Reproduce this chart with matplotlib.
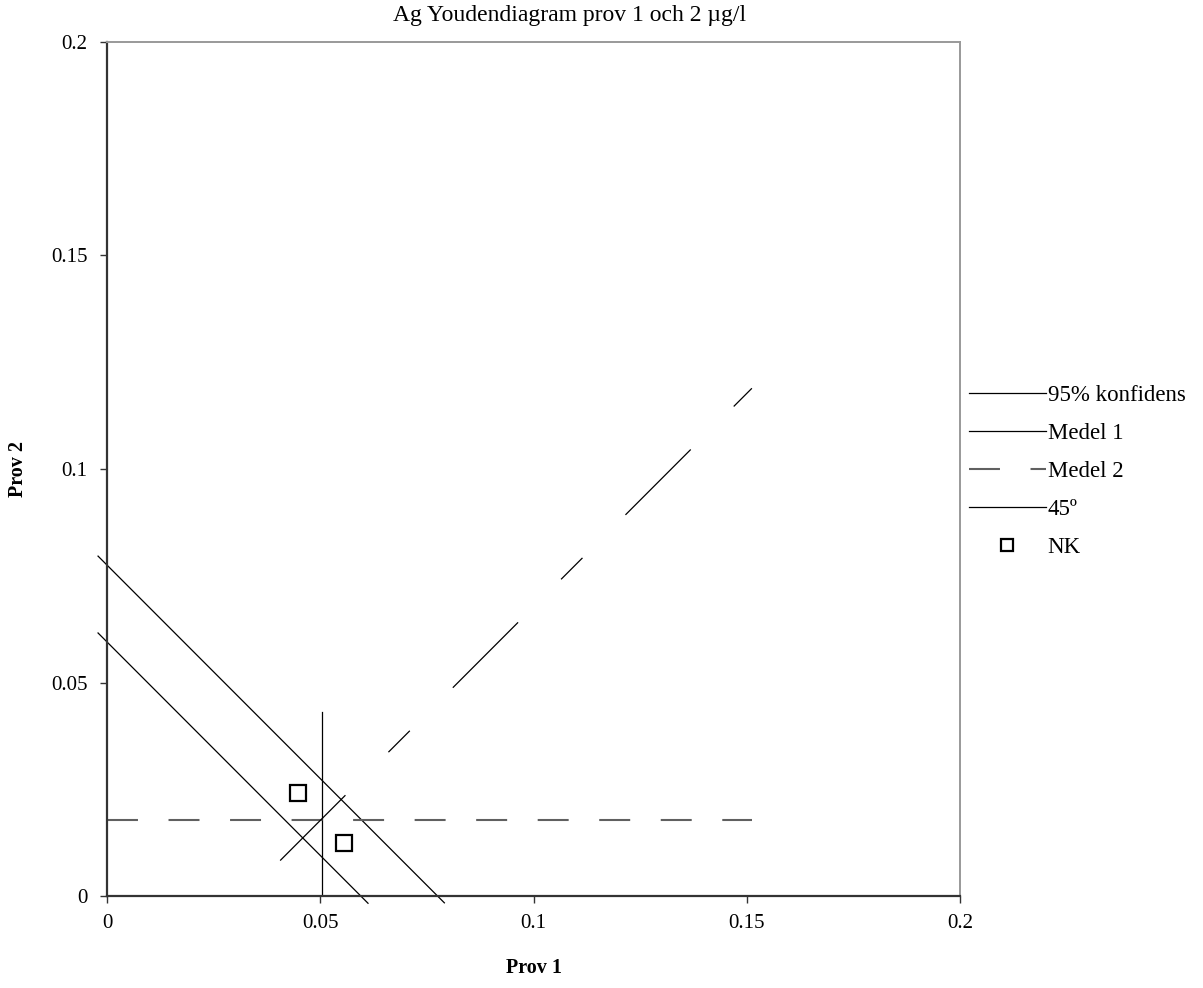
import matplotlib
matplotlib.use("Agg")
import matplotlib.pyplot as plt
from matplotlib.lines import Line2D

plt.rcParams["font.family"] = ["Liberation Serif", "DejaVu Serif"]
plt.rcParams["lines.scale_dashes"] = False

# Youden data for Ag, prov 1 vs prov 2 (µg/l)
nk_prov1 = [0.0448, 0.0556]
nk_prov2 = [0.0241, 0.0124]

medel1 = 0.0503
medel2 = 0.0178
medel1_ymax = 0.0432
medel2_xmax = 0.1512

# 45 degree line through (medel1, medel2)
line45_x = [0.0406, 0.1512]
line45_y = [0.0083, 0.1189]

# 95 % confidence lines (perpendicular to 45 degree line)
konf_outer_x = [-0.0021, 0.0791]
konf_outer_y = [0.0796, -0.0016]
konf_inner_x = [-0.0021, 0.0612]
konf_inner_y = [0.0616, -0.0017]

ticks = [0, 0.05, 0.1, 0.15, 0.2]
tick_labels = ["0", "0.05", "0.1", "0.15", "0.2"]

fig = plt.figure(figsize=(12.03, 9.88), dpi=100)
ax = fig.add_axes([107 / 1203, 1 - 896 / 988, 853 / 1203, 854 / 988])

ax.plot(konf_outer_x, konf_outer_y, color="black", lw=0.9, clip_on=False)
ax.plot(konf_inner_x, konf_inner_y, color="black", lw=0.9, clip_on=False)
ax.plot([medel1, medel1], [0, medel1_ymax], color="black", lw=0.9)
ax.plot([0, medel2_xmax], [medel2, medel2], color="#606060", lw=1.5,
        dashes=(22.3, 22.0))
ax.plot(line45_x, line45_y, color="black", lw=0.9,
        dashes=(66.5, 43.8, 21.8, 43.8))
ax.plot(nk_prov1, nk_prov2, ls="none", marker="s", ms=11,
        mfc="white", mec="black", mew=1.6)

ax.set_xlim(0, 0.2)
ax.set_ylim(0, 0.2)
ax.set_xticks(ticks)
ax.set_xticklabels(tick_labels)
ax.set_yticks(ticks)
ax.set_yticklabels(tick_labels)
ax.tick_params(direction="out", length=5, width=1, labelsize=15,
               color="#333333")
ax.tick_params(axis="x", pad=8)
ax.tick_params(axis="y", pad=9)

for side in ("left", "bottom"):
    ax.spines[side].set_color("#333333")
    ax.spines[side].set_linewidth(1.6)
for side in ("top", "right"):
    ax.spines[side].set_color("#999999")
    ax.spines[side].set_linewidth(1.4)

ax.set_xlabel("Prov 1", fontsize=14.5, fontweight="bold")
ax.set_ylabel("Prov 2", fontsize=14.5, fontweight="bold")
ax.xaxis.set_label_coords(0.5, -(968 - 896) / 854, transform=ax.transAxes)
ax.yaxis.set_label_coords(-(107 - 18) / 853, 0.5, transform=ax.transAxes)
ax.xaxis.label.set_va("center")
ax.yaxis.label.set_va("center")

fig.text(570 / 1203, 1 - 15 / 988, "Ag Youdendiagram prov 1 och 2 µg/l",
         ha="center", va="center", fontsize=17)

handles = [
    Line2D([], [], color="black", lw=0.9),
    Line2D([], [], color="black", lw=0.9),
    Line2D([], [], color="#606060", lw=1.5, dashes=(22.3, 22.0)),
    Line2D([], [], color="black", lw=0.9),
    Line2D([], [], ls="none", marker="s", ms=8, mfc="white", mec="black",
           mew=1.6),
]
labels = ["95% konfidens", "Medel 1", "Medel 2", "45º", "NK"]
fig.legend(handles, labels, loc="upper left",
           bbox_to_anchor=(969 / 1203, 1 - 385 / 988), frameon=False,
           fontsize=16.5, handlelength=3.35, handletextpad=0.08,
           labelspacing=0.74, borderaxespad=0, borderpad=0)

fig.savefig("out.png", dpi=100)
